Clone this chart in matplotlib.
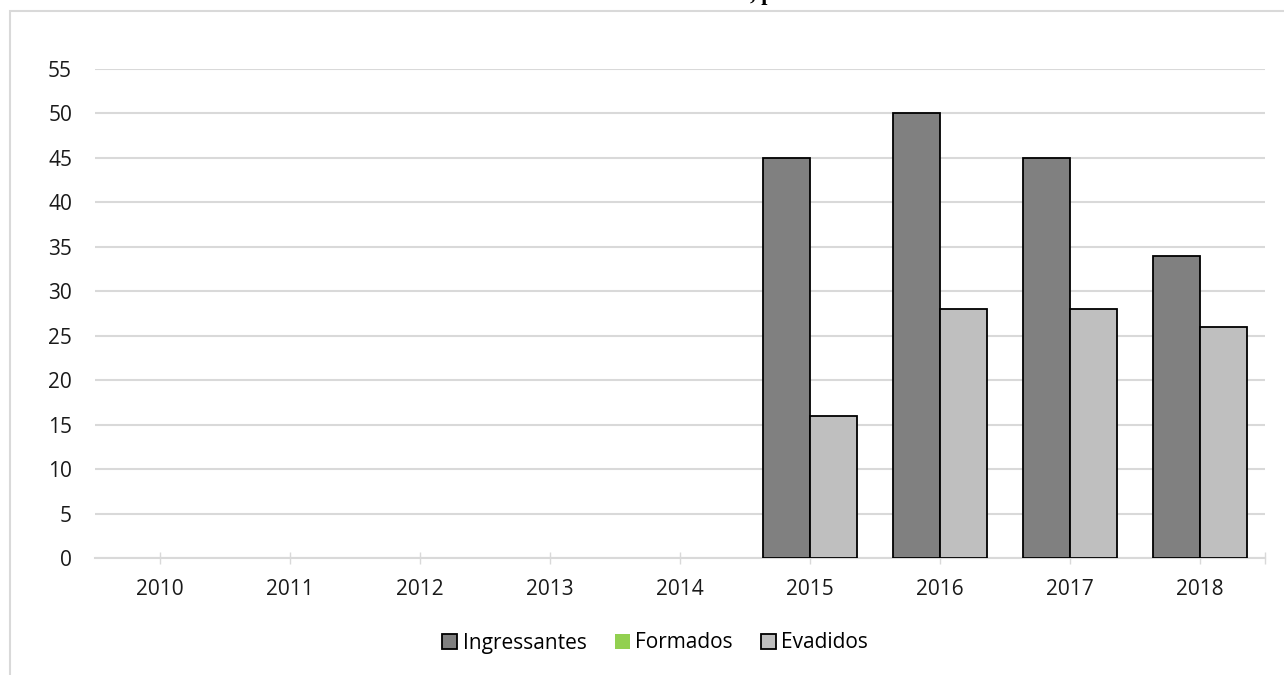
import numpy as np
import matplotlib
matplotlib.use("Agg")
import matplotlib.pyplot as plt
from matplotlib.patches import Rectangle

years = ["2010", "2011", "2012", "2013", "2014", "2015", "2016", "2017", "2018"]
ingressantes = [np.nan, np.nan, np.nan, np.nan, np.nan, 45, 50, 45, 34]
formados = [0, 0, 0, 0, 0, 0, 0, 0, 0]
evadidos = [np.nan, np.nan, np.nan, np.nan, np.nan, 16, 28, 28, 26]
yticks = list(range(0, 60, 5))

plt.rcParams['font.family'] = ['Open Sans', 'DejaVu Sans']

W, H = 1284, 675
fig = plt.figure(figsize=(W / 100, H / 100), dpi=100)
ax = fig.add_axes([95 / W, 1 - 558 / H, (1265 - 95) / W, (558 - 69) / H])

x = np.arange(len(years))
w = 0.36
grid_c = "#d9d9d9"
fs = 15

ax.bar(x - w / 2, ingressantes, width=w, color="#808080", edgecolor="black",
       linewidth=1.3, label="Ingressantes", zorder=3)
ax.bar(x, formados, width=0, color="#92d050", linewidth=0, label="Formados", zorder=3)
ax.bar(x + w / 2, evadidos, width=w, color="#bfbfbf", edgecolor="black",
       linewidth=1.3, label="Evadidos", zorder=3)

ax.set_xlim(-0.5, len(years) - 0.5)
ax.set_ylim(0, 55)
ax.set_yticks(yticks)
ax.set_yticklabels([str(v) for v in yticks], fontsize=fs, color="#1a1a1a")
ax.set_xticks(x)
ax.set_xticklabels(years, fontsize=fs, color="#1a1a1a")
ax.set_xticks([len(years) - 0.5], minor=True)

ax.yaxis.grid(True, color=grid_c, linewidth=1.5, zorder=0)
ax.set_axisbelow(True)
for s in ["top", "right", "left"]:
    ax.spines[s].set_visible(False)
ax.spines["bottom"].set_color(grid_c)
ax.spines["bottom"].set_linewidth(1.5)
ax.tick_params(axis="y", length=0, pad=16.5)
ax.tick_params(axis="x", which="both", direction="inout", length=8, width=1,
               color=grid_c, pad=11)

leg = ax.legend(loc="center", bbox_to_anchor=((655 - 95) / (1265 - 95), (643 - 558) / -(558 - 69)),
                ncol=3, frameon=False, fontsize=fs, handlelength=0.72,
                handleheight=0.72, handletextpad=0.25, columnspacing=1.35)

# outer chart border (partially cropped)
fig.add_artist(Rectangle((10 / W, -0.1), 1.2, (H - 11) / H + 0.1, fill=False,
                         edgecolor=grid_c, linewidth=1.5, transform=fig.transFigure))

# cropped title remnant
fig.text(762 / W, 1.0, ", p", ha="center", va="baseline", fontsize=16,
         fontweight="bold", family=["Liberation Serif", "DejaVu Serif"])

fig.savefig("out.png", dpi=100)
